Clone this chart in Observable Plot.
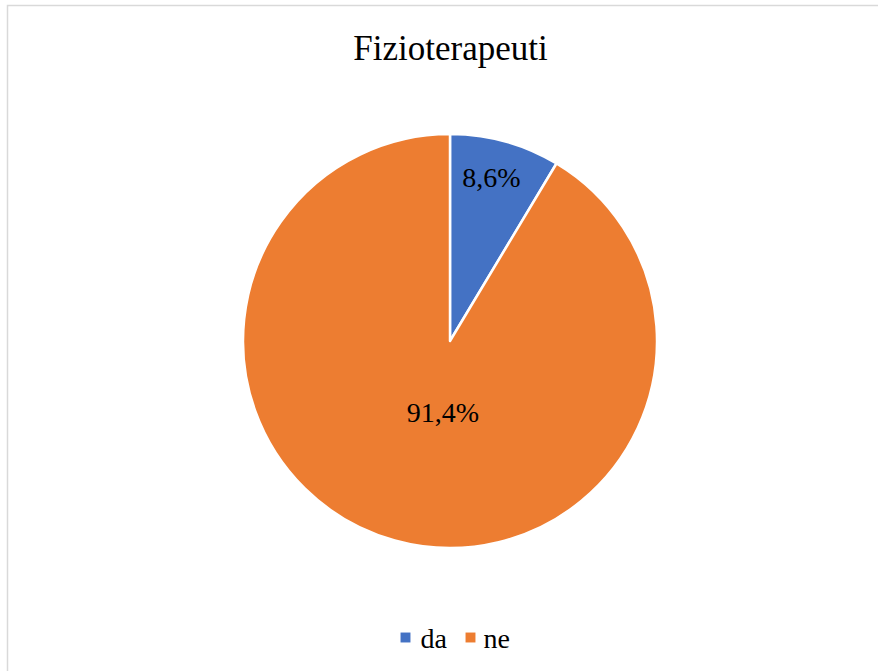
<!DOCTYPE html>
<html><head><meta charset="utf-8">
<script src="https://cdn.jsdelivr.net/npm/d3@7"></script>
<script src="https://cdn.jsdelivr.net/npm/@observablehq/plot@0.6"></script>
<style>
body{margin:0;background:#fff}
svg{display:block}
svg text{font-family:"Liberation Serif","Times New Roman",serif !important;}
</style>
</head><body><div id="chart"></div>
<script>
// ---- data ----
const title = "Fizioterapeuti";
const categories = ["da", "ne"];
const values = [8.6, 91.4];
const labels = ["8,6%", "91,4%"];
const colors = ["#4472C4", "#ED7D31"];

// ---- layout ----
const W = 878, H = 671;
const cx = 450, cy = 341, R = 207;
const labelRadius = [0.80, 0.36];
const labelAngleDeg = [14.3, 185.8];
const legendSwatchX = [405, 470];
const legendTextX = [420, 483];
const legendY = 637;

const data = categories.map((c, i) => ({category: c, value: values[i], label: labels[i]}));
const arcs = d3.pie().sort(null).value(d => d.value).startAngle(0)(data);

const labelData = data.map((d, i) => {
  const a = labelAngleDeg[i] * Math.PI / 180;
  return {...d, x: cx + Math.sin(a) * R * labelRadius[i], y: cy - Math.cos(a) * R * labelRadius[i] - 3};
});
const legendData = data.map((d, i) => ({...d, sx: legendSwatchX[i], tx: legendTextX[i]}));

function pieMark(index, scales) {
  const x0 = scales.x(cx), y0 = scales.y(cy);
  const r = scales.x(cx + R) - x0;
  const arc = d3.arc().innerRadius(0).outerRadius(r);
  const g = d3.create("svg:g").attr("transform", `translate(${x0},${y0})`);
  g.selectAll("path").data(arcs).join("path")
    .attr("d", arc)
    .attr("fill", d => scales.color(d.data.category))
    .attr("stroke", "#fff")
    .attr("stroke-width", 2.5)
    .attr("stroke-linejoin", "round");
  return g.node();
}

const chart = Plot.plot({
  width: W, height: H,
  margin: 0,
  x: {domain: [0, W], range: [0, W], axis: null},
  y: {domain: [0, H], range: [0, H], axis: null},
  color: {domain: categories, range: colors},
  style: {background: "#fff"},
  marks: [
    Plot.rect([0], {x1: 7.5, y1: 5.5, x2: W + 20, y2: H + 20, fill: "none", stroke: "#d9d9d9", strokeWidth: 1.5}),
    pieMark,
    Plot.text(labelData, {x: "x", y: "y", text: "label", fontSize: 28, fill: "#000"}),
    Plot.text([title], {x: cx, y: 48, text: d => d, fontSize: 35, fill: "#000"}),
    Plot.dot(legendData, {x: "sx", y: legendY, symbol: "square", r: 5.6, fill: "category", stroke: "none"}),
    Plot.text(legendData, {x: "tx", y: legendY + 2, text: "category", textAnchor: "start", fontSize: 28, fill: "#000"})
  ]
});
document.getElementById("chart").appendChild(chart);
</script>
</body></html>
